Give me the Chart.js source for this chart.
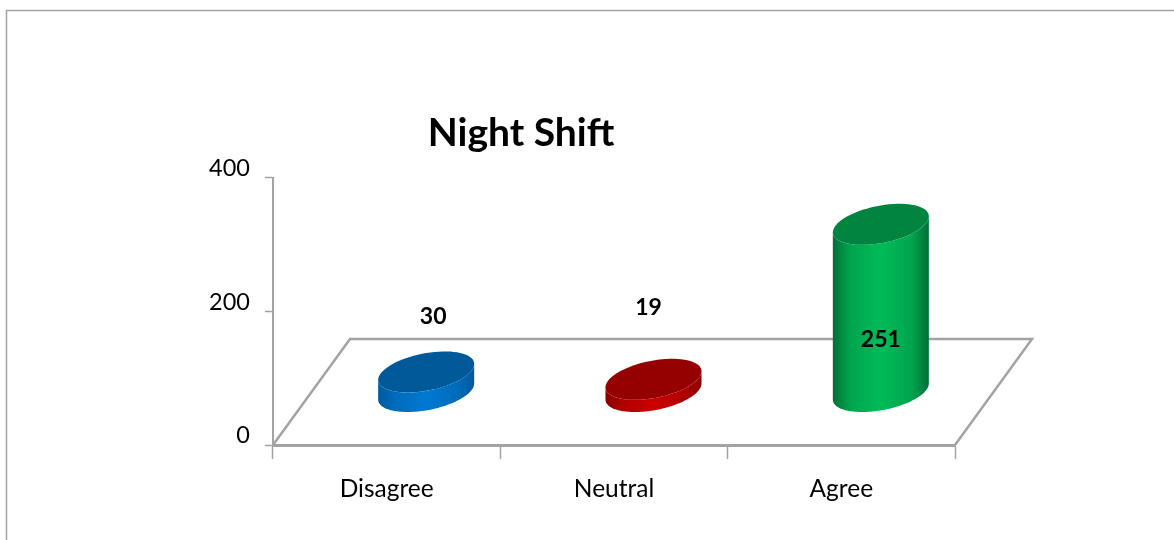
<!DOCTYPE html>
<html>
<head>
<meta charset="utf-8">
<title>Night Shift</title>
<script src="https://cdn.jsdelivr.net/npm/chart.js@4/dist/chart.umd.min.js"></script>
<style>
  html, body { margin: 0; padding: 0; background: #fff; overflow: hidden; }
  canvas { display: block; }
</style>
</head>
<body>
<canvas id="chart" width="1174" height="540"></canvas>
<script>
// Survey responses
const categories = ['Disagree', 'Neutral', 'Agree'];
const responses = [30, 19, 251];
const yTicks = [0, 200, 400];

// Cylinder colours, per category
const capColors = ['#005a9a', '#950000', '#00843f'];
const sideEdgeColors = ['#00599c', '#8a0000', '#006f36'];
const sideShoulderColors = ['#006cbc', '#b00000', '#00a54e'];
const sideMidColors = ['#0079d4', '#cc0000', '#00bb58'];

// Value label offsets from the centre of each cylinder's cap
const labelDx = [7, -5, 0];
const labelDy = [-56, -73, 114];

const GREY = '#a3a3a3';
const FONT = 'Lato, Carlito, "Open Sans", sans-serif';

// Oblique floor projection: how far the back edge sits from the front edge
const FLOOR_DX = 77;
const FLOOR_DY = 106;
// Cylinders stand midway across the floor's depth
const STAND_DX = 39.5;
const STAND_DY = 53;
// Sheared ellipse shape of a cylinder cap, relative to its half width
const CAP_SHEAR = 8 / 48;
const CAP_MINOR = 18.9 / 48;

function capPoint(cx, cy, r, t) {
  return [cx + r * Math.cos(t), cy - r * CAP_SHEAR * Math.cos(t) + r * CAP_MINOR * Math.sin(t)];
}

function traceCap(ctx, cx, cy, r, from, to) {
  const steps = 72;
  for (let i = 0; i <= steps; i++) {
    const [x, y] = capPoint(cx, cy, r, from + (to - from) * i / steps);
    ctx.lineTo(x, y);
  }
}

const floorAndCylinders = {
  id: 'floorAndCylinders',
  beforeDraw(chart) {
    const ctx = chart.ctx;
    ctx.save();
    ctx.strokeStyle = GREY;
    ctx.lineWidth = 1.5;
    ctx.beginPath();
    ctx.moveTo(6.5, 540);
    ctx.lineTo(6.5, 10.5);
    ctx.lineTo(1174, 10.5);
    ctx.stroke();
    ctx.restore();
  },
  beforeDatasetsDraw(chart) {
    const { ctx, chartArea: a } = chart;
    ctx.save();
    ctx.strokeStyle = GREY;
    ctx.lineWidth = 2.5;
    ctx.lineJoin = 'miter';
    ctx.beginPath();
    ctx.moveTo(a.left, a.bottom);
    ctx.lineTo(a.left + FLOOR_DX, a.bottom - FLOOR_DY);
    ctx.lineTo(a.right + FLOOR_DX, a.bottom - FLOOR_DY);
    ctx.lineTo(a.right, a.bottom);
    ctx.stroke();
    ctx.restore();
  },
  afterDatasetsDraw(chart) {
    const ctx = chart.ctx;
    const bars = chart.getDatasetMeta(0).data;
    bars.forEach((bar, i) => {
      const r = bar.width / 2;
      const cx = bar.x + STAND_DX;
      const topY = bar.y - STAND_DY;
      const baseY = bar.base - STAND_DY;

      const side = ctx.createLinearGradient(cx - r, 0, cx + r, 0);
      side.addColorStop(0, sideEdgeColors[i]);
      side.addColorStop(0.18, sideShoulderColors[i]);
      side.addColorStop(0.5, sideMidColors[i]);
      side.addColorStop(0.82, sideShoulderColors[i]);
      side.addColorStop(1, sideEdgeColors[i]);
      ctx.save();
      ctx.fillStyle = side;
      ctx.beginPath();
      traceCap(ctx, cx, baseY, r, 0, Math.PI);
      traceCap(ctx, cx, topY, r, Math.PI, 0);
      ctx.closePath();
      ctx.fill();

      ctx.fillStyle = capColors[i];
      ctx.beginPath();
      traceCap(ctx, cx, topY, r, 0, Math.PI * 2);
      ctx.closePath();
      ctx.fill();

      ctx.fillStyle = '#000';
      ctx.font = 'bold 23px ' + FONT;
      ctx.textAlign = 'center';
      ctx.textBaseline = 'middle';
      ctx.fillText(String(responses[i]), cx + labelDx[i], topY + labelDy[i] + 1);
      ctx.restore();
    });
  }
};

new Chart(document.getElementById('chart'), {
  type: 'bar',
  data: {
    labels: categories,
    datasets: [{
      label: 'Night Shift',
      data: responses,
      backgroundColor: 'rgba(0,0,0,0)',
      categoryPercentage: 1,
      barPercentage: 0.4224
    }]
  },
  plugins: [floorAndCylinders],
  options: {
    responsive: false,
    animation: false,
    events: [],
    layout: { padding: { left: 87, right: 219, top: 0, bottom: 0 } },
    plugins: {
      legend: { display: false },
      tooltip: { enabled: false },
      title: {
        display: true,
        text: 'Night Shift',
        color: '#000',
        font: { family: FONT, size: 39, weight: 'bold', lineHeight: 1.2 },
        padding: { top: 110, bottom: 21 }
      }
    },
    scales: {
      x: {
        afterFit(scale) { scale.height = 95; },
        border: { color: GREY, width: 3 },
        grid: { drawOnChartArea: false, tickLength: 14, tickColor: GREY, tickWidth: 1.5 },
        ticks: { color: '#000', padding: 15.5, font: { family: FONT, size: 24.5 } }
      },
      y: {
        min: 0,
        max: 400,
        afterFit(scale) { scale.width = 186; },
        afterBuildTicks(scale) { scale.ticks = yTicks.map(v => ({ value: v })); },
        border: { color: GREY, width: 2 },
        grid: { drawOnChartArea: false, tickLength: 8, tickColor: GREY, tickWidth: 1.5 },
        ticks: {
          color: '#000',
          padding: 15,
          // The empty second line lifts each number above its tick mark
          callback: v => [String(v), ''],
          font: { family: FONT, size: 23.5, lineHeight: 0.8 }
        }
      }
    }
  }
});
</script>
</body>
</html>
